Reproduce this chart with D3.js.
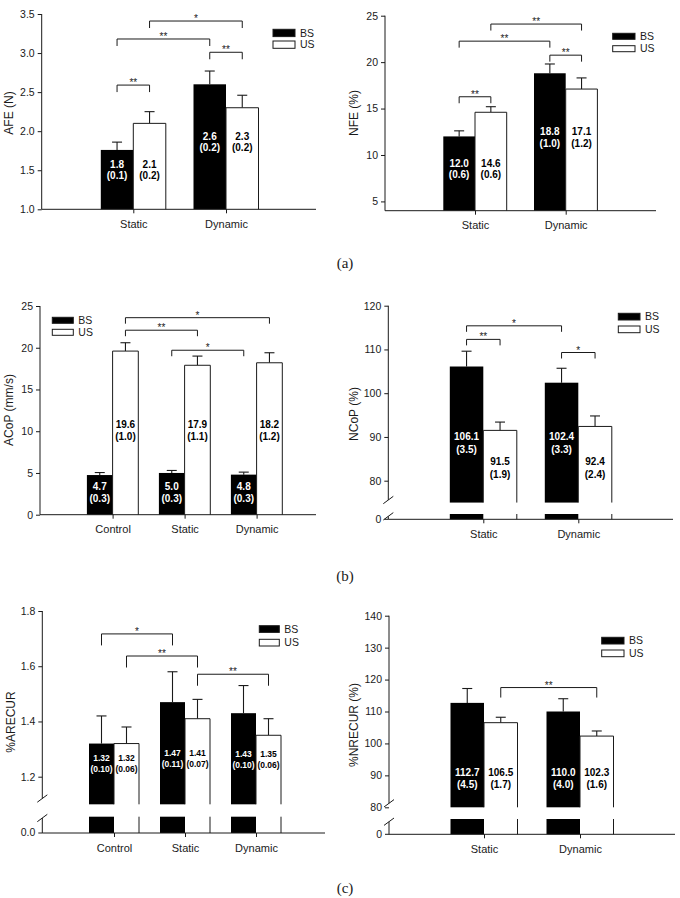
<!DOCTYPE html>
<html><head><meta charset="utf-8">
<script src="https://cdn.jsdelivr.net/npm/d3@7"></script>
<style>
body{margin:0;background:#fff}
svg{display:block}
text{font-family:"Liberation Sans",Arial,Helvetica,sans-serif;fill:#1a1a1a}
</style>
</head><body>
<svg id="c" width="680" height="898"></svg>
<script>
// ---------------- DATA ----------------
// (a) left: AFE (N)
const afeCats = ["Static", "Dynamic"];
const afeBS = [1.76, 2.60];
const afeUS = [2.10, 2.30];
const afeErrBS = [0.10, 0.17];
const afeErrUS = [0.15, 0.16];
const afeLabBS = [["1.8", "(0.1)"], ["2.6", "(0.2)"]];
const afeLabUS = [["2.1", "(0.2)"], ["2.3", "(0.2)"]];
const afeTicks = [1.0, 1.5, 2.0, 2.5, 3.0, 3.5];
const afeSig = [["Static:BS", "Static:US", 2.59, "**"], ["Static:BS", "Dynamic:BS", 3.18, "**"],
                ["Static:US", "Dynamic:US", 3.41, "*"], ["Dynamic:BS", "Dynamic:US", 3.01, "**"]];

// (a) right: NFE (%)
const nfeCats = ["Static", "Dynamic"];
const nfeBS = [12.0, 18.8];
const nfeUS = [14.6, 17.1];
const nfeErrBS = [0.6, 1.0];
const nfeErrUS = [0.6, 1.2];
const nfeLabBS = [["12.0", "(0.6)"], ["18.8", "(1.0)"]];
const nfeLabUS = [["14.6", "(0.6)"], ["17.1", "(1.2)"]];
const nfeTicks = [5, 10, 15, 20, 25];
const nfeSig = [["Static:BS", "Static:US", 16.27, "**"], ["Static:BS", "Dynamic:BS", 22.26, "**"],
                ["Static:US", "Dynamic:US", 24.1, "**"], ["Dynamic:BS", "Dynamic:US", 20.75, "**"]];

// (b) left: ACoP (mm/s)
const acopCats = ["Control", "Static", "Dynamic"];
const acopBS = [4.75, 5.0, 4.8];
const acopUS = [19.6, 17.9, 18.2];
const acopErrBS = [0.3, 0.3, 0.3];
const acopErrUS = [1.0, 1.1, 1.2];
const acopLabBS = [["4.7", "(0.3)"], ["5.0", "(0.3)"], ["4.8", "(0.3)"]];
const acopLabUS = [["19.6", "(1.0)"], ["17.9", "(1.1)"], ["18.2", "(1.2)"]];
const acopTicks = [0, 5, 10, 15, 20, 25];
const acopSig = [["Control:US", "Dynamic:US", 23.6, "*"], ["Control:US", "Static:US", 22.1, "**"],
                 ["Static:BS", "Dynamic:BS", 19.7, "*"]];

// (b) right: NCoP (%)
const ncopCats = ["Static", "Dynamic"];
const ncopBS = [106.1, 102.4];
const ncopUS = [91.5, 92.4];
const ncopErrBS = [3.5, 3.3];
const ncopErrUS = [1.9, 2.4];
const ncopLabBS = [["106.1", "(3.5)"], ["102.4", "(3.3)"]];
const ncopLabUS = [["91.5", "(1.9)"], ["92.4", "(2.4)"]];
const ncopTicks = [80, 90, 100, 110, 120];
const ncopSig = [["Static:BS", "Dynamic:BS", 115.4, "*"], ["Static:BS", "Static:US", 112.3, "**"],
                 ["Dynamic:BS", "Dynamic:US", 109.3, "*"]];

// (c) left: %ARECUR
const arecCats = ["Control", "Static", "Dynamic"];
const arecBS = [1.32, 1.47, 1.43];
const arecUS = [1.32, 1.41, 1.35];
const arecErrBS = [0.10, 0.11, 0.10];
const arecErrUS = [0.06, 0.07, 0.06];
const arecLabBS = [["1.32", "(0.10)"], ["1.47", "(0.11)"], ["1.43", "(0.10)"]];
const arecLabUS = [["1.32", "(0.06)"], ["1.41", "(0.07)"], ["1.35", "(0.06)"]];
const arecTicks = [1.2, 1.4, 1.6, 1.8];
const arecSig = [["Control:BS", "Static:BS", 1.717, "*"], ["Control:US", "Static:US", 1.637, "**"],
                 ["Static:US", "Dynamic:US", 1.571, "**"]];

// (c) right: %NRECUR (%)
const nrecCats = ["Static", "Dynamic"];
const nrecBS = [112.7, 110.0];
const nrecUS = [106.5, 102.3];
const nrecErrBS = [4.5, 4.0];
const nrecErrUS = [1.7, 1.6];
const nrecLabBS = [["112.7", "(4.5)"], ["110.0", "(4.0)"]];
const nrecLabUS = [["106.5", "(1.7)"], ["102.3", "(1.6)"]];
const nrecTicks = [80, 90, 100, 110, 120, 130, 140];
const nrecSig = [["Static:US", "Dynamic:US", 117.5, "**"]];

const seriesNames = ["BS", "US"];
const captions = ["(a)", "(b)", "(c)"];

// ---------------- DRAWING ----------------
const svg = d3.select("#c");
const INK = "#1a1a1a";

function panel(cfg, d) {
  const g = svg.append("g");
  const y = d3.scaleLinear().domain(cfg.dom).range(cfg.yr);
  const x = d3.scalePoint().domain(d.cats).range(cfg.cx);
  const s = d3.scaleBand().domain(seriesNames).range([-cfg.bw, cfg.bw]);
  const axisY = cfg.axisY;
  const base = cfg.barBase != null ? y(cfg.barBase) : axisY;
  const bx = (c, k) => x(c) + s(k);
  const bc = (c, k) => x(c) + s(k) + s.bandwidth() / 2;

  // y axis ticks
  const ax = g.append("g").attr("transform", `translate(${cfg.x0},0)`)
    .call(d3.axisLeft(y).tickValues(d.ticks).tickFormat(d3.format(cfg.fmt)).tickSize(4).tickPadding(3).tickSizeOuter(0));
  ax.select(".domain").remove();
  ax.selectAll("line").attr("stroke", INK);
  ax.selectAll("text").style("font-size", "10.5px").style("font-family", '"Liberation Sans",Arial,sans-serif').attr("fill", INK);

  // y axis line (with optional break)
  if (cfg.brk) {
    g.append("line").attr("x1", cfg.x0).attr("x2", cfg.x0).attr("y1", y(cfg.dom[1])).attr("y2", cfg.brk[0]).attr("stroke", INK);
    g.append("line").attr("x1", cfg.x0).attr("x2", cfg.x0).attr("y1", cfg.brk[1]).attr("y2", axisY).attr("stroke", INK);
    cfg.brk.forEach(by => {
      g.append("line").attr("x1", cfg.x0 - 5).attr("y1", by + 3.7).attr("x2", cfg.x0 + 5).attr("y2", by - 3.7).attr("stroke", INK);
    });
    g.append("line").attr("x1", cfg.x0 - 4).attr("x2", cfg.x0).attr("y1", axisY).attr("y2", axisY).attr("stroke", INK);
    g.append("text").attr("x", cfg.x0 - 7).attr("y", axisY).attr("dy", "0.32em").attr("text-anchor", "end")
      .style("font-size", "10.5px").text(cfg.zero);
  } else {
    g.append("line").attr("x1", cfg.x0).attr("x2", cfg.x0).attr("y1", y(cfg.dom[1])).attr("y2", axisY).attr("stroke", INK);
  }

  // bars
  d.cats.forEach((c, i) => {
    const rows = [["BS", d.bs[i], d.ebs[i], d.lbs[i], cfg.labAt[0][i]], ["US", d.us[i], d.eus[i], d.lus[i], cfg.labAt[1][i]]];
    rows.forEach(([k, v, e, lab, la]) => {
      const x0 = bx(c, k), w = s.bandwidth(), xc = bc(c, k);
      // error bar
      g.append("line").attr("x1", xc).attr("x2", xc).attr("y1", y(v)).attr("y2", y(v + e)).attr("stroke", INK).attr("stroke-width", 1.1);
      g.append("line").attr("x1", xc - 5).attr("x2", xc + 5).attr("y1", y(v + e)).attr("y2", y(v + e)).attr("stroke", INK).attr("stroke-width", 1.1);
      if (k === "BS") {
        g.append("rect").attr("x", x0).attr("y", y(v)).attr("width", w).attr("height", base - y(v)).attr("fill", "#000");
        if (cfg.brk) g.append("rect").attr("x", x0).attr("y", cfg.stubTop).attr("width", w).attr("height", axisY - cfg.stubTop).attr("fill", "#000");
      } else {
        g.append("path").attr("d", `M${x0},${base}V${y(v)}H${x0 + w}V${base}`).attr("fill", "#fff").attr("stroke", INK).attr("stroke-width", 1);
        if (cfg.brk) g.append("path").attr("d", `M${x0 + w},${cfg.stubTop}V${axisY}`).attr("stroke", INK).attr("fill", "none");
      }
      // value label
      const t = g.append("text").attr("text-anchor", "middle").style("font-weight", "bold")
        .style("font-size", cfg.labFont + "px").style("fill", k === "BS" ? "#fff" : "#000");
      t.append("tspan").attr("x", xc).attr("y", y(la) - cfg.lineH / 2).attr("dy", "0.35em").text(lab[0]);
      t.append("tspan").attr("x", xc).attr("y", y(la) + cfg.lineH / 2).attr("dy", "0.35em").text(lab[1]);
    });
  });

  // x axis
  g.append("line").attr("x1", cfg.x0).attr("x2", cfg.x1).attr("y1", axisY).attr("y2", axisY).attr("stroke", INK);
  const xa = g.append("g").attr("transform", `translate(0,${axisY})`)
    .call(d3.axisBottom(x).tickSize(4).tickPadding(7).tickSizeOuter(0));
  xa.select(".domain").remove();
  xa.selectAll("line").attr("stroke", INK);
  xa.selectAll("text").style("font-size", "11px").style("font-family", '"Liberation Sans",Arial,sans-serif').attr("fill", INK);

  // significance brackets
  d.sig.forEach(([a, b, at, star]) => {
    const [ca, ka] = a.split(":"), [cb, kb] = b.split(":");
    const xa1 = bc(ca, ka), xb1 = bc(cb, kb), yy = y(at);
    g.append("path").attr("d", `M${xa1},${yy + cfg.drop}V${yy}H${xb1}V${yy + cfg.drop}`)
      .attr("fill", "none").attr("stroke", INK).attr("stroke-width", 1);
    g.append("text").attr("x", (xa1 + xb1) / 2).attr("y", yy + 1).attr("text-anchor", "middle")
      .style("font-size", "10px").text(star);
  });

  // legend
  const L = cfg.leg;
  seriesNames.forEach((k, j) => {
    const ly = L.y + j * L.gap;
    g.append("rect").attr("x", L.x).attr("y", ly).attr("width", L.w).attr("height", L.h)
      .attr("fill", k === "BS" ? "#000" : "#fff").attr("stroke", INK).attr("stroke-width", 1);
    g.append("text").attr("x", L.x + L.w + 5).attr("y", ly + L.h / 2).attr("dy", "0.36em")
      .style("font-size", "10.5px").text(k);
  });

  // y title
  g.append("text").attr("transform", `translate(${cfg.title[0]},${cfg.title[1]}) rotate(-90)`)
    .attr("text-anchor", "middle").attr("dy", "0.35em").style("font-size", "12px").text(cfg.title[2]);
}

panel({dom: [1, 3.5], yr: [209.3, 14], axisY: 209.3, x0: 41.7, x1: 316, cx: [133.3, 226], bw: 32.5, fmt: ".1f",
       drop: 7, labAt: [[1.50, 1.86], [1.50, 1.86]], lineH: 11.4, labFont: 10,
       leg: {x: 273, y: 29.3, w: 22, h: 7.3, gap: 11.7}, title: [9, 113, "AFE (N)"]},
      {cats: afeCats, bs: afeBS, us: afeUS, ebs: afeErrBS, eus: afeErrUS, lbs: afeLabBS, lus: afeLabUS, ticks: afeTicks, sig: afeSig});

panel({dom: [4, 25], yr: [210.7, 15.7], axisY: 210.7, x0: 385, x1: 656, cx: [475, 565.7], bw: 31.7, fmt: "d",
       drop: 6.5, labAt: [[8.5, 11.9], [8.5, 11.9]], lineH: 11.5, labFont: 10,
       leg: {x: 612.7, y: 33.3, w: 22.3, h: 6, gap: 12.4}, title: [353.5, 113, "NFE (%)"]},
      {cats: nfeCats, bs: nfeBS, us: nfeUS, ebs: nfeErrBS, eus: nfeErrUS, lbs: nfeLabBS, lus: nfeLabUS, ticks: nfeTicks, sig: nfeSig});

panel({dom: [0, 25], yr: [514.7, 306], axisY: 514.7, x0: 40, x1: 316, cx: [112.6, 256.6], bw: 25.7, fmt: "d",
       drop: 6, labAt: [[2.6, 2.6, 2.6], [10.05, 10.05, 10.05]], lineH: 12, labFont: 10,
       leg: {x: 52.3, y: 317.3, w: 21, h: 6, gap: 12}, title: [9, 410, "ACoP (mm/s)"]},
      {cats: acopCats, bs: acopBS, us: acopUS, ebs: acopErrBS, eus: acopErrUS, lbs: acopLabBS, lus: acopLabUS, ticks: acopTicks, sig: acopSig});

panel({dom: [80, 120], yr: [480.7, 305.7], axisY: 519.3, barBase: 75, stubTop: 514, brk: [500, 516.3], zero: "0",
       x0: 388.3, x1: 673, cx: [483.3, 578.3], bw: 33.5, fmt: "d",
       drop: 6, labAt: [[88.6, 88.6], [82.9, 82.9]], lineH: 12.2, labFont: 10,
       leg: {x: 618.3, y: 313.3, w: 21.7, h: 6.7, gap: 12.7}, title: [353.5, 414, "NCoP (%)"]},
      {cats: ncopCats, bs: ncopBS, us: ncopUS, ebs: ncopErrBS, eus: ncopErrUS, lbs: ncopLabBS, lus: ncopLabUS, ticks: ncopTicks, sig: ncopSig});

panel({dom: [1.2, 1.8], yr: [776.7, 611], axisY: 833, barBase: 1.1, stubTop: 816.7, brk: [798.5, 818], zero: "0.0",
       x0: 42.3, x1: 325, cx: [114, 256], bw: 25, fmt: ".1f",
       drop: 11.5, labAt: [[1.247, 1.266, 1.262], [1.247, 1.266, 1.262]], lineH: 10.7, labFont: 8.5,
       leg: {x: 259.3, y: 625.7, w: 20, h: 6.7, gap: 13.6}, title: [11, 722, "%ARECUR"]},
      {cats: arecCats, bs: arecBS, us: arecUS, ebs: arecErrBS, eus: arecErrUS, lbs: arecLabBS, lus: arecLabUS, ticks: arecTicks, sig: arecSig});

panel({dom: [80, 140], yr: [807.3, 615.7], axisY: 834.3, barBase: 80, stubTop: 819, brk: [803.3, 821.7], zero: "0",
       x0: 389, x1: 675, cx: [484, 580], bw: 33.5, fmt: "d",
       drop: 10, labAt: [[89, 89], [89, 89]], lineH: 12.7, labFont: 10,
       leg: {x: 601.7, y: 637.3, w: 22.3, h: 6.7, gap: 12.7}, title: [353.5, 725, "%NRECUR (%)"]},
      {cats: nrecCats, bs: nrecBS, us: nrecUS, ebs: nrecErrBS, eus: nrecErrUS, lbs: nrecLabBS, lus: nrecLabUS, ticks: nrecTicks, sig: nrecSig});

// captions
[263, 575.7, 888].forEach((cy, i) => {
  svg.append("text").attr("x", 345).attr("y", cy).attr("dy", "0.35em").attr("text-anchor", "middle")
    .style("font-family", '"Liberation Serif","Times New Roman",serif').style("font-size", "15px").text(captions[i]);
});
</script>
</body></html>
